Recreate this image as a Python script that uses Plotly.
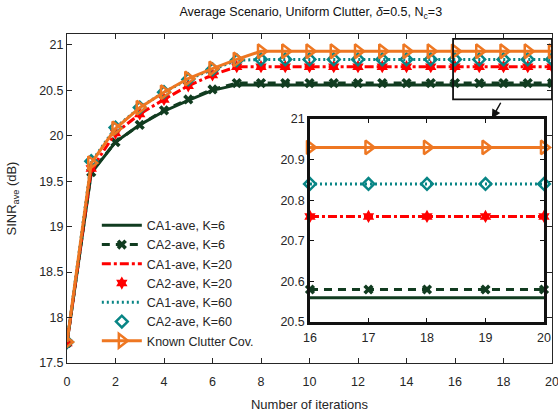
import plotly.graph_objects as go

iterations = [0, 1, 2, 3, 4, 5, 6, 7, 8, 9, 10, 11, 12, 13, 14, 15, 16, 17, 18, 19, 20]

ca1_k6 = [17.72, 19.59, 19.93, 20.12, 20.27, 20.39, 20.50, 20.56, 20.56, 20.56, 20.56, 20.56, 20.56,
          20.56, 20.56, 20.56, 20.56, 20.56, 20.56, 20.56, 20.56]
ca2_k6 = [17.72, 19.60, 19.93, 20.12, 20.28, 20.40, 20.51, 20.58, 20.58, 20.58, 20.58, 20.58, 20.58,
          20.58, 20.58, 20.58, 20.58, 20.58, 20.58, 20.58, 20.58]
ca1_k20 = [17.72, 19.63, 20.03, 20.24, 20.40, 20.55, 20.67, 20.76, 20.76, 20.76, 20.76, 20.76, 20.76,
           20.76, 20.76, 20.76, 20.76, 20.76, 20.76, 20.76, 20.76]
ca2_k20 = [17.72, 19.64, 20.03, 20.24, 20.40, 20.55, 20.67, 20.76, 20.76, 20.76, 20.76, 20.76, 20.76,
           20.76, 20.76, 20.76, 20.76, 20.76, 20.76, 20.76, 20.76]
ca1_k60 = [17.73, 19.71, 20.09, 20.31, 20.48, 20.62, 20.73, 20.83, 20.84, 20.84, 20.84, 20.84, 20.84,
           20.84, 20.84, 20.84, 20.84, 20.84, 20.84, 20.84, 20.84]
ca2_k60 = [17.73, 19.72, 20.09, 20.31, 20.48, 20.62, 20.73, 20.83, 20.84, 20.84, 20.84, 20.84, 20.84,
           20.84, 20.84, 20.84, 20.84, 20.84, 20.84, 20.84, 20.84]
known = [17.73, 19.70, 20.08, 20.31, 20.48, 20.63, 20.74, 20.84, 20.93, 20.93, 20.93, 20.93, 20.93,
         20.93, 20.93, 20.93, 20.93, 20.93, 20.93, 20.93, 20.93]

names = ["CA1-ave, K=6", "CA2-ave, K=6", "CA1-ave, K=20", "CA2-ave, K=20",
         "CA1-ave, K=60", "CA2-ave, K=60", "Known Clutter Cov."]

GREEN = "#113c20"
RED = "#ff0000"
TEAL = "#088585"
ORANGE = "#ee7722"
TXT = "#262626"
FONT = "Liberation Sans, Arial, sans-serif"

series = [ca1_k6, ca2_k6, ca1_k20, ca2_k20, ca1_k60, ca2_k60, known]
styles = [
    dict(mode="lines", line=dict(color=GREEN, width=3, dash="solid")),
    dict(mode="lines+markers", line=dict(color=GREEN, width=3, dash="8px,6px"),
         marker=dict(symbol="x", size=9, color=GREEN)),
    dict(mode="lines", line=dict(color=RED, width=3, dash="9px,3px,3px,3px")),
    dict(mode="markers", marker=dict(symbol="hexagram", size=10, color=RED)),
    dict(mode="lines", line=dict(color=TEAL, width=3, dash="2px,3px")),
    dict(mode="markers", marker=dict(symbol="diamond-open", size=9, color=TEAL,
                                     line=dict(width=2.5, color=TEAL))),
    dict(mode="lines+markers", line=dict(color=ORANGE, width=3),
         marker=dict(symbol="triangle-right-open", size=12, color=ORANGE,
                     line=dict(width=2.5, color=ORANGE))),
]

fig = go.Figure()
for name, ys, st in zip(names, series, styles):
    fig.add_trace(go.Scatter(x=iterations, y=ys, name=name, xaxis="x", yaxis="y", **st))

# inset traces (x >= 16)
i0 = iterations.index(16)
for name, ys, st in zip(names, series, styles):
    fig.add_trace(go.Scatter(x=iterations[i0:], y=ys[i0:], name=name, xaxis="x2", yaxis="y2",
                             showlegend=False, cliponaxis=False, **st))

axis_common = dict(showline=True, linecolor=TXT, linewidth=1, mirror="allticks", ticks="inside",
                   ticklen=5, tickcolor=TXT, showgrid=False, zeroline=False, automargin=False,
                   ticklabeloverflow="allow",
                   tickfont=dict(size=12.5, color=TXT, family=FONT))
inset_common = dict(showline=True, linecolor="#111111", linewidth=2.5, mirror="allticks",
                    ticks="inside", ticklen=4, tickcolor="#111111", showgrid=False, zeroline=False,
                    automargin=False, ticklabeloverflow="allow",
                    tickfont=dict(size=12.5, color=TXT, family=FONT))

fig.update_layout(
    width=558, height=415,
    margin=dict(l=67, r=6, t=34, b=52),
    paper_bgcolor="white", plot_bgcolor="white",
    font=dict(family=FONT, color=TXT, size=12.5),
    title=dict(text="Average Scenario, Uniform Clutter, <i>δ</i>=0.5, N<sub>c</sub>=3",
               x=0.557, xanchor="center", y=0.971, yanchor="middle",
               font=dict(size=12.5, color="#111111", family=FONT)),
    xaxis=dict(range=[0, 20], dtick=2, domain=[0, 1], ticklabelstandoff=7,
               title=dict(text="Number of iterations", standoff=11,
                          font=dict(size=13, color=TXT, family=FONT)), **axis_common),
    yaxis=dict(range=[17.5, 21.12], dtick=0.5, domain=[0, 1],
               title=dict(text="SINR<sub>ave</sub> (dB)", standoff=19,
                          font=dict(size=13, color=TXT, family=FONT)), **axis_common),
    xaxis2=dict(range=[16, 20], dtick=1, domain=[0.501, 0.9835], anchor="y2",
                ticklabelstandoff=2, **inset_common),
    yaxis2=dict(range=[20.5, 21], dtick=0.1, domain=[0.1246, 0.7416], anchor="x2", **inset_common),
    legend=dict(x=0.0615, y=0.463, xanchor="left", yanchor="top", bgcolor="rgba(0,0,0,0)",
                borderwidth=0, font=dict(size=12.5, color=TXT, family=FONT),
                tracegroupgap=0, itemwidth=40),
    showlegend=True,
)

fig.add_shape(type="rect", xref="x", yref="y", x0=15.92, x1=20, y0=20.4, y1=21.066,
              line=dict(color="#111111", width=1.8))
fig.add_annotation(x=17.52, y=20.19, ax=17.92, ay=20.38, xref="x", yref="y", axref="x", ayref="y",
                   showarrow=True, arrowhead=2, arrowsize=1.2, arrowwidth=1.5, arrowcolor="#111111",
                   text="")

fig.write_html("out.html", config={"displayModeBar": False},
               post_script="document.body.style.margin='0px';document.body.style.padding='0px';")
